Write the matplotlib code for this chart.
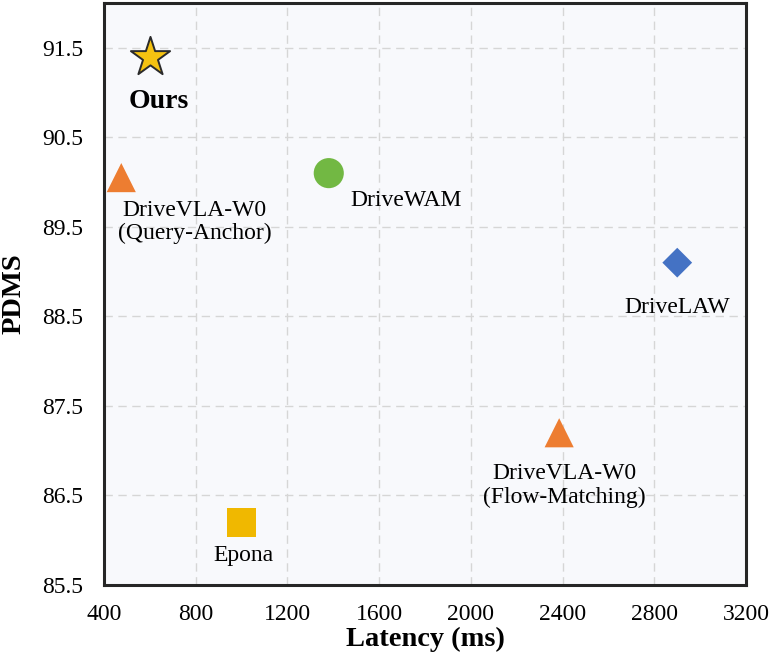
import matplotlib.pyplot as plt
import numpy as np

plt.rcParams['font.family'] = ['Liberation Serif', 'DejaVu Serif']

# data
names = ['Ours', 'DriveVLA-W0\n(Query-Anchor)', 'DriveWAM', 'DriveLAW',
         'DriveVLA-W0\n(Flow-Matching)', 'Epona']
latency = [600, 475, 1380, 2900, 2385, 1000]
pdms = [91.4, 90.05, 90.1, 89.1, 87.2, 86.2]

markers = ['*', '^', 'o', 'D', '^', 's']
colors = ['#f5c211', '#ed7d31', '#72b843', '#4472c4', '#ed7d31', '#f0b800']
sizes = [880, 440, 470, 230, 440, 440]
# label offsets in points (dx, dy) from the marker
offsets = [(6, -32), (53, -32), (56, -20), (0, -32), (4, -38), (1, -24)]

xticks = np.arange(400, 3201, 400)
yticks = np.arange(85.5, 91.6, 1.0)

fig = plt.figure(figsize=(7.71, 6.58), dpi=100)
ax = fig.add_axes([0.135, 0.111, 0.8326, 0.8844])
ax.set_facecolor('#f8f9fc')

for i in range(len(names)):
    if markers[i] == '*':
        ax.scatter(latency[i], pdms[i], s=sizes[i], marker='*', c=colors[i],
                   edgecolors='#2b2b2b', linewidths=1.4, zorder=5)
    else:
        ax.scatter(latency[i], pdms[i], s=sizes[i], marker=markers[i],
                   c=colors[i], edgecolors='none', zorder=5)
    bold = 'bold' if names[i] == 'Ours' else 'normal'
    fs = 20 if names[i] == 'Ours' else 17
    ax.annotate(names[i], (latency[i], pdms[i]), xytext=offsets[i],
                textcoords='offset points', ha='center', va='center',
                multialignment='center', fontsize=fs, fontweight=bold,
                linespacing=1.15, zorder=6)

ax.set_xlim(400, 3200)
ax.set_ylim(85.5, 92.0)
ax.set_xticks(xticks)
ax.set_yticks(yticks)
ax.set_xticklabels([f'{v}' for v in xticks])
ax.set_yticklabels([f'{v:.1f}' for v in yticks])
ax.tick_params(axis='both', length=0, labelsize=17)
ax.tick_params(axis='x', pad=14)
ax.tick_params(axis='y', pad=15)

ax.grid(True, color='#d6d6d6', linestyle=(0, (6, 4)), linewidth=1.0)
ax.set_axisbelow(True)
for sp in ax.spines.values():
    sp.set_linewidth(2.2)
    sp.set_color('#262626')

ax.set_xlabel('Latency (ms)', fontsize=20.5, fontweight='bold', labelpad=1)
ax.set_ylabel('PDMS', fontsize=20.5, fontweight='bold', labelpad=11)

fig.savefig('out.png', dpi=100)
